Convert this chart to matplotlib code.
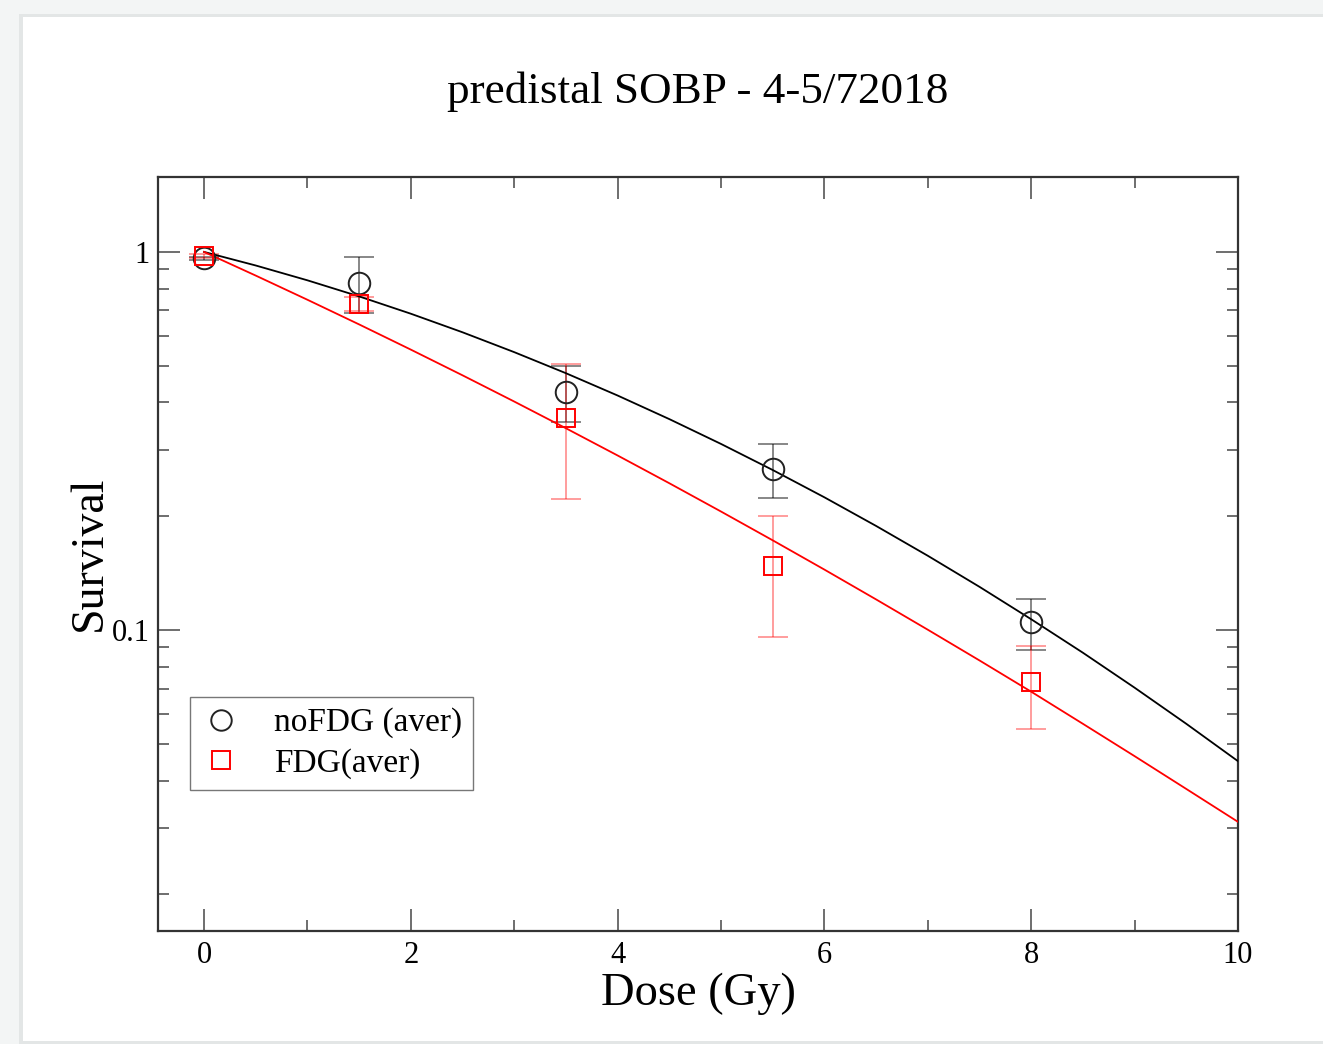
import numpy as np
import matplotlib
matplotlib.use("Agg")
import matplotlib.pyplot as plt
from matplotlib.patches import Rectangle
from matplotlib.ticker import LogLocator, FixedLocator, NullFormatter, FixedFormatter

# ---------------- data ----------------
dose_pts = [0.0, 1.5, 3.5, 5.5, 8.0]
nofdg_surv = [0.961, 0.830, 0.427, 0.267, 0.1048]
nofdg_err = [0.010, 0.142, 0.071, 0.043, 0.016]
fdg_surv = [0.975, 0.728, 0.364, 0.148, 0.0729]
fdg_err = [0.010, 0.030, 0.142, 0.052, 0.018]

# fitted curves
curve_dose = [0.0, 0.5, 1.0, 1.5, 2.0, 2.5, 3.0, 3.5, 4.0, 4.5, 5.0,
              5.5, 6.0, 6.5, 7.0, 7.5, 8.0, 8.5, 9.0, 9.5, 10.0]
nofdg_fit = [1.0, 0.9207, 0.8412, 0.7627, 0.6864, 0.6130, 0.5432, 0.4778,
             0.4171, 0.3613, 0.3106, 0.2650, 0.2244, 0.1885, 0.1572, 0.1301,
             0.1068, 0.0871, 0.0704, 0.0565, 0.0450]
fdg_fit = [1.0, 0.8658, 0.7473, 0.6431, 0.5516, 0.4717, 0.4021, 0.3417,
           0.2895, 0.2445, 0.2058, 0.1727, 0.1445, 0.1205, 0.1002, 0.0831,
           0.0687, 0.0565, 0.0464, 0.0380, 0.0311]

x_ticks = [0, 2, 4, 6, 8, 10]
x_ticklabels = ["0", "2", "4", "6", "8", "10"]
y_ticks = [0.1, 1]
y_ticklabels = ["0.1", "1"]

title = "predistal SOBP - 4-5/72018"
xlabel = "Dose (Gy)"
ylabel = "Survival"
labels = ["noFDG (aver)", "FDG(aver)"]

# ---------------- figure ----------------
W, H = 1323, 1044
fig = plt.figure(figsize=(W / 100, H / 100), dpi=100)
fig.patch.set_facecolor("#f3f5f5")
# white page with faint shadow
fig.patches.append(Rectangle((19 / W, 0), 1, 1 - 14 / H, transform=fig.transFigure,
                             facecolor="#e3e6e6", edgecolor="none", zorder=-20))
fig.patches.append(Rectangle((23 / W, 3 / H), 1, 1 - 20 / H, transform=fig.transFigure,
                             facecolor="white", edgecolor="none", zorder=-10))

plt.rcParams["font.family"] = ["Liberation Serif", "DejaVu Serif"]

left, right, top, bottom = 158, 1238, 177, 931
ax = fig.add_axes([left / W, 1 - bottom / H, (right - left) / W, (bottom - top) / H])
ax.set_facecolor("white")

ax.plot(curve_dose, nofdg_fit, color="black", lw=1.3, zorder=3)
ax.plot(curve_dose, fdg_fit, color="#ff0000", lw=1.3, zorder=3)

ax.errorbar(dose_pts, nofdg_surv, yerr=nofdg_err, fmt="none", ecolor=(0, 0, 0, 0.55),
            elinewidth=1.2, capsize=11, capthick=1.2, zorder=2)
ax.errorbar(dose_pts, fdg_surv, yerr=fdg_err, fmt="none", ecolor=(1, 0, 0, 0.45),
            elinewidth=1.2, capsize=11, capthick=1.2, zorder=2)

h1, = ax.plot(dose_pts, nofdg_surv, "o", ms=15.5, mfc="none", mec="#222222", mew=1.4,
              linestyle="none", zorder=4, label=labels[0])
h2, = ax.plot(dose_pts, fdg_surv, "s", ms=13.5, mfc="none", mec="#ff0000", mew=1.4,
              linestyle="none", zorder=4, label=labels[1])

ax.set_yscale("log")
ax.set_xlim(-0.445, 10.0)
ax.set_ylim(0.016, 1.578)

ax.xaxis.set_major_locator(FixedLocator(x_ticks))
ax.xaxis.set_major_formatter(FixedFormatter(x_ticklabels))
ax.xaxis.set_minor_locator(FixedLocator([1, 3, 5, 7, 9]))
ax.yaxis.set_major_locator(FixedLocator(y_ticks))
ax.yaxis.set_major_formatter(FixedFormatter(y_ticklabels))
ax.yaxis.set_minor_locator(LogLocator(base=10, subs=np.arange(2, 10) * 1.0, numticks=20))
ax.yaxis.set_minor_formatter(NullFormatter())

tick_col = "#555555"
ax.tick_params(which="both", direction="in", top=True, right=True, color=tick_col,
               labelsize=22, labelcolor="black")
ax.tick_params(which="major", length=16, width=1.2, pad=7)
ax.tick_params(which="minor", length=8, width=1.2)
ax.tick_params(axis="y", which="major", pad=6)
for s in ax.spines.values():
    s.set_color("#333333")
    s.set_linewidth(1.6)

ax.set_xlabel(xlabel, fontsize=33.5)
ax.xaxis.set_label_coords(0.5, -0.083)
ax.xaxis.label.set_va("center")
ax.set_ylabel(ylabel, fontsize=33)
ax.yaxis.set_label_coords(-0.063, 0.501)
ax.yaxis.label.set_va("center")

ax.text(0.5, 1.113, title, transform=ax.transAxes, ha="center", va="center", fontsize=32.5)

leg = ax.legend(handles=[h1, h2], loc="upper left",
                bbox_to_anchor=((190 - left) / (right - left), (bottom - 697) / (bottom - top)),
                borderaxespad=0, fontsize=24, frameon=True, fancybox=False,
                handlelength=1.2, handletextpad=1.0, borderpad=0.32, labelspacing=0.3,
                markerscale=0.95)
leg.get_frame().set_edgecolor("#555555")
leg.get_frame().set_linewidth(1.0)

fig.savefig("out.png", dpi=100, facecolor=fig.get_facecolor())
